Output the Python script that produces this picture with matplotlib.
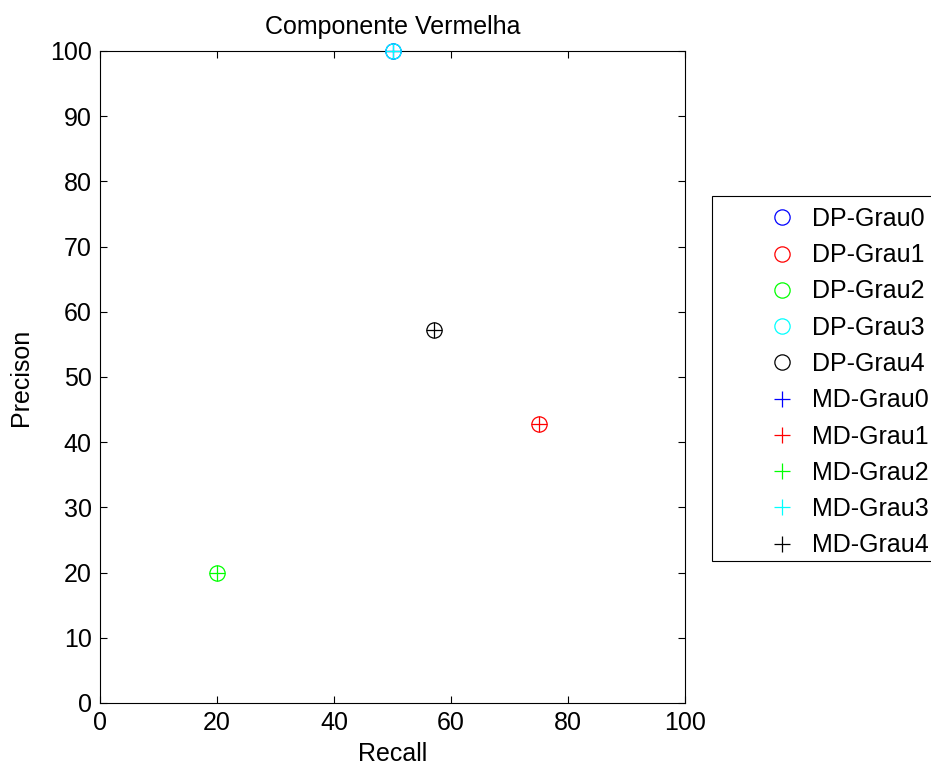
import matplotlib.pyplot as plt
from matplotlib.patches import Rectangle

# dados (Recall, Precisao) por grau
labels_dp = ["DP-Grau0", "DP-Grau1", "DP-Grau2", "DP-Grau3", "DP-Grau4"]
labels_md = ["MD-Grau0", "MD-Grau1", "MD-Grau2", "MD-Grau3", "MD-Grau4"]
recall_dp = [50, 75, 20, 50, 57.14]
precisao_dp = [100, 42.86, 20, 100, 57.14]
recall_md = [50, 75, 20, 50, 57.14]
precisao_md = [100, 42.86, 20, 100, 57.14]
cores = ["#0000ff", "#ff0000", "#00ff00", "#00ffff", "#000000"]

plt.rcParams['font.family'] = ['Liberation Sans', 'DejaVu Sans']

fig = plt.figure(figsize=(9.31, 7.69), dpi=100)
ax = fig.add_axes([100 / 931, 66 / 769, 585 / 931, 652 / 769])

handles = []
for r, p, c, lab in zip(recall_dp, precisao_dp, cores, labels_dp):
    h, = ax.plot(r, p, 'o', mfc='none', mec=c, ms=11, mew=0.9,
                 label=lab, clip_on=False, zorder=3)
    handles.append(h)
for r, p, c, lab in zip(recall_md, precisao_md, cores, labels_md):
    h, = ax.plot(r, p, '+', color=c, ms=12, mew=0.9,
                 label=lab, clip_on=False, zorder=3)
    handles.append(h)

ax.set_xlim(0, 100)
ax.set_ylim(0, 100)
ax.set_xticks(range(0, 101, 20))
ax.set_yticks(range(0, 101, 10))
ax.tick_params(direction='in', top=True, right=True, length=5,
               labelsize=18, width=0.8, pad=6)
for s in ax.spines.values():
    s.set_linewidth(0.8)

ax.set_title("Componente Vermelha", fontsize=18, pad=12)
ax.set_xlabel("Recall", fontsize=18, labelpad=5)
ax.set_ylabel("Precison", fontsize=18, labelpad=12)

# moldura da legenda (estilo MATLAB)
fig.patches.append(Rectangle((712 / 931, (769 - 561) / 769), 0.3, 365 / 769,
                             transform=fig.transFigure, fill=True,
                             facecolor='white', edgecolor='black', lw=0.8))
fig.legend(handles=handles, loc='upper left',
           bbox_to_anchor=(757 / 931, (769 - 207) / 769),
           frameon=False, fontsize=18, borderpad=0, borderaxespad=0,
           handlelength=2, handletextpad=0.2, labelspacing=0.49)

plt.savefig("out.png", dpi=100)
